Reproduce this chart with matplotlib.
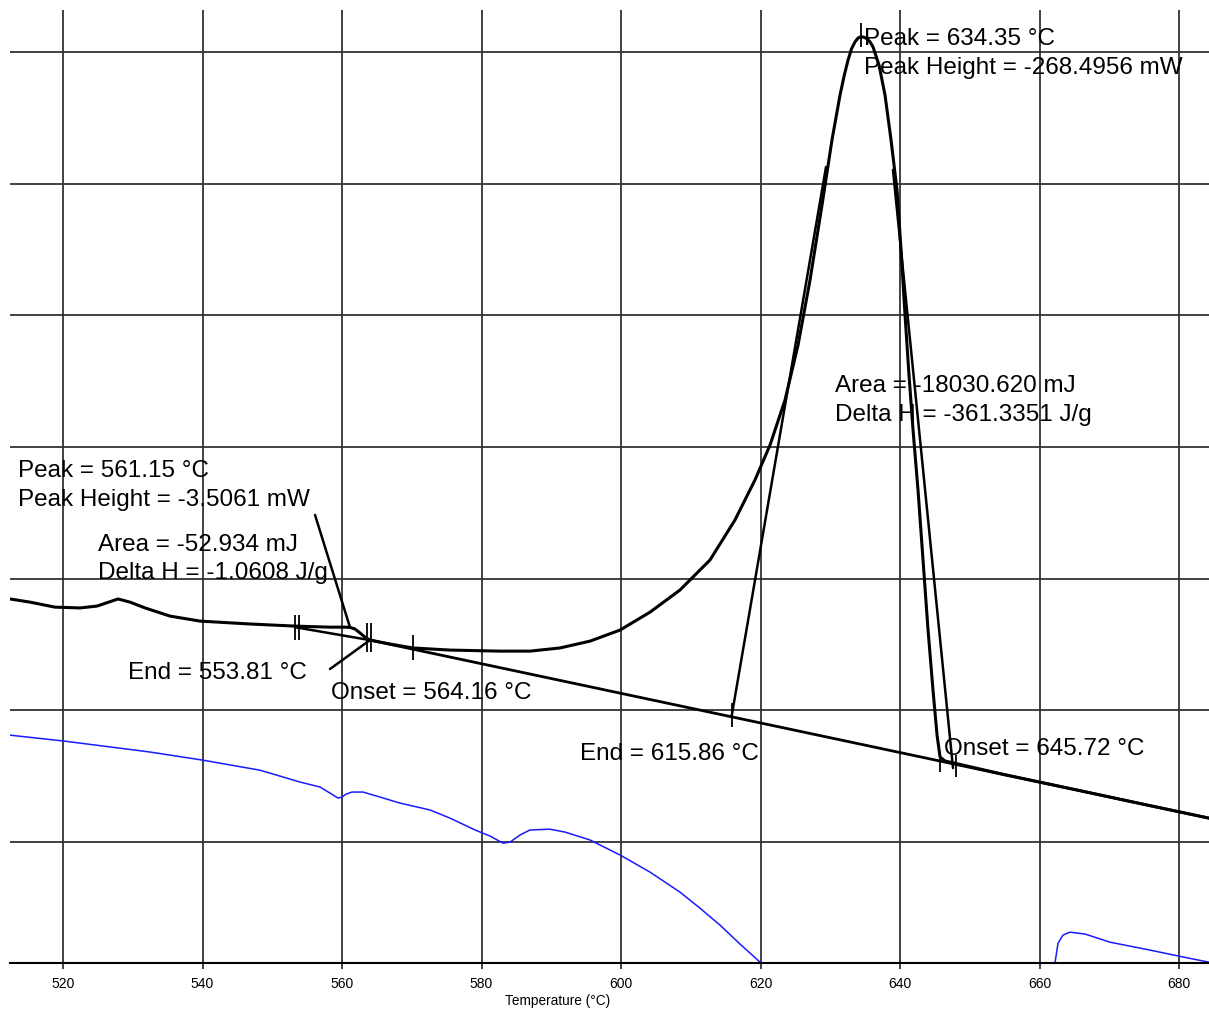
import numpy as np
import matplotlib
matplotlib.use("Agg")
import matplotlib.pyplot as plt

plt.rcParams['font.family'] = ['Liberation Sans', 'DejaVu Sans']

# DSC heat-flow trace (temperature in °C, heat flow in mW; endotherm plotted upward)
dsc_T = [512.40, 515.27, 518.85, 522.44, 524.87, 527.89, 529.61, 531.76, 535.34, 539.64,
         546.81, 553.26, 558.28, 560.57, 561.15, 561.86, 562.58, 563.30, 564.01, 566.88,
         570.18, 575.48, 582.65, 586.95, 591.25, 595.56, 599.86, 604.16, 608.46, 612.76,
         616.34, 619.21, 621.36, 623.51, 625.38, 627.10, 628.82, 630.25, 631.40, 632.00,
         632.55, 633.05, 633.55, 634.00, 634.35, 634.80, 635.27, 635.70, 636.13, 636.99,
         637.85, 638.71, 639.57, 640.15, 640.72, 641.29, 641.87, 642.58, 643.30, 644.02,
         644.73, 645.31, 645.74, 646.45, 655.0, 665.0, 675.0, 684.30]
dsc_mW = [-92.3, -91.1, -89.2, -88.9, -89.6, -92.3, -91.1, -88.9, -85.8, -83.9,
          -82.8, -82.0, -81.6, -81.6, -81.5, -80.9, -79.4, -77.8, -76.7, -75.2,
          -73.7, -72.9, -72.5, -72.5, -73.7, -76.3, -80.5, -87.3, -95.7, -107.1,
          -122.3, -137.5, -150.7, -167.8, -188.7, -213.4, -241.9, -266.6, -283.6, -291.0,
          -296.9, -301.2, -303.8, -305.3, -305.7, -305.6, -305.0, -303.8, -301.9, -295.0,
          -283.6, -266.6, -247.6, -224.8, -200.1, -177.3, -156.4, -133.7, -107.1, -80.5,
          -57.7, -40.6, -32.3, -30.8, -25.6, -20.0, -14.3, -9.1]

# Second signal (blue), leaves the plotted range between ~621 and ~662 °C
blue_T = [512.40, 520.00, 532.47, 540.07, 548.24, 553.98, 556.85, 558.28, 559.43, 560.00,
          560.57, 561.43, 563.01, 565.45, 568.32, 572.62, 575.48, 579.07, 581.22, 583.08,
          584.09, 585.52, 586.95, 589.82, 591.97, 595.56, 596.99, 599.86, 604.16, 608.46,
          611.33, 614.19, 617.06, 620.07, 621.5, np.nan, 662.0, 662.22, 662.65, 663.37,
          664.37, 666.52, 670.11, 675.84, 680.00, 684.30]
blue_mW = [-40.6, -38.4, -34.2, -31.1, -27.3, -22.8, -20.9, -18.6, -16.7, -17.1,
           -18.2, -19.0, -19.0, -17.1, -14.8, -12.2, -9.1, -4.6, -2.3, 0.4,
           0.0, -2.7, -4.6, -4.9, -3.8, -0.8, 1.1, 4.9, 11.4, 19.0,
           25.1, 31.5, 38.7, 45.9, 52.0, np.nan, 52.0, 45.9, 38.4, 35.3,
           34.2, 34.9, 38.0, 41.0, 43.3, 45.6]

# Integration baselines and tangent construction lines
small_base_T = [553.25, 564.16]
small_base_mW = [-81.6, -76.6]
main_base_T = [564.01, 684.30]
main_base_mW = [-76.7, -9.1]
tan_left_T = [615.86, 629.39]
tan_left_mW = [-47.8, -256.3]
tan_right_T = [638.99, 647.60]
tan_right_mW = [-255.2, -28.1]

# Leader lines from the small-peak labels
lead1_T = [556.13, 561.15]
lead1_mW = [-124.2, -81.5]
lead2_T = [558.28, 564.01]
lead2_mW = [-65.7, -76.7]

# Vertical limit markers
marks_T = [553.25, 553.81, 563.6, 564.16, 570.18, 615.86, 634.35, 645.72, 648.0]
marks_lo = [-86.2, -86.2, -83.2, -83.2, -78.6, -52.8, -311.0, -34.2, -33.0]
marks_hi = [-76.7, -76.7, -72.1, -72.1, -69.1, -43.7, -301.9, -26.6, -24.7]

# Result annotations: (temperature, heat flow, text)
labels = [
    (634.84, -304.9, "Peak = 634.35 °C"),
    (634.84, -293.9, "Peak Height = -268.4956 mW"),
    (630.68, -173.2, "Area = -18030.620 mJ"),
    (630.68, -162.2, "Delta H = -361.3351 J/g"),
    (513.55, -140.9, "Peak = 561.15 °C"),
    (513.55, -129.9, "Peak Height = -3.5061 mW"),
    (525.02, -112.8, "Area = -52.934 mJ"),
    (525.02, -102.2, "Delta H = -1.0608 J/g"),
    (529.32, -64.2, "End = 553.81 °C"),
    (558.42, -56.6, "Onset = 564.16 °C"),
    (594.12, -33.5, "End = 615.86 °C"),
    (646.31, -35.4, "Onset = 645.72 °C"),
]

x_ticks = [520, 540, 560, 580, 600, 620, 640, 660, 680]
y_grid = [0, -50, -100, -150, -200, -250, -300]

W, H = 1209, 1009
fig = plt.figure(figsize=(W / 100, H / 100), dpi=100)
ax = fig.add_axes([10 / W, 46 / H, 1199 / W, 953 / H])

ax.set_xlim(512.40, 684.30)
ax.set_ylim(45.9, -315.9)

grid_kw = dict(color='#333333', lw=1.3, zorder=1)
for x in x_ticks:
    ax.axvline(x, **grid_kw)
for y in y_grid:
    ax.axhline(y, **grid_kw)

ax.plot(blue_T, blue_mW, color='#1a1aff', lw=1.1, zorder=2)

line_kw = dict(color='black', solid_capstyle='round', solid_joinstyle='round', zorder=3)
ax.plot(small_base_T, small_base_mW, lw=1.8, **line_kw)
ax.plot(main_base_T, main_base_mW, lw=2.0, **line_kw)
ax.plot(tan_left_T, tan_left_mW, lw=1.8, **line_kw)
ax.plot(tan_right_T, tan_right_mW, lw=1.8, **line_kw)
ax.plot(lead1_T, lead1_mW, lw=1.8, **line_kw)
ax.plot(lead2_T, lead2_mW, lw=1.8, **line_kw)
ax.plot(dsc_T, dsc_mW, lw=2.2, **line_kw)
ax.vlines(marks_T, marks_lo, marks_hi, color='black', lw=1.3, zorder=3)

for tx, ty, s in labels:
    ax.text(tx, ty, s, fontsize=17.5, ha='left', va='center', color='black', zorder=4)

for side in ('top', 'right', 'left'):
    ax.spines[side].set_visible(False)
ax.spines['bottom'].set_color('black')
ax.spines['bottom'].set_linewidth(1.5)

ax.set_xticks(x_ticks)
ax.set_xticklabels([str(t) for t in x_ticks])
ax.tick_params(axis='x', direction='out', length=4, width=1.3, color='#333333',
               labelsize=10, pad=6)
ax.set_yticks([])

ax.set_xlabel("Temperature (°C)", fontsize=9.8)
ax.xaxis.set_label_coords(0.457, -0.033)

fig.savefig("out.png", dpi=100, facecolor='white')
